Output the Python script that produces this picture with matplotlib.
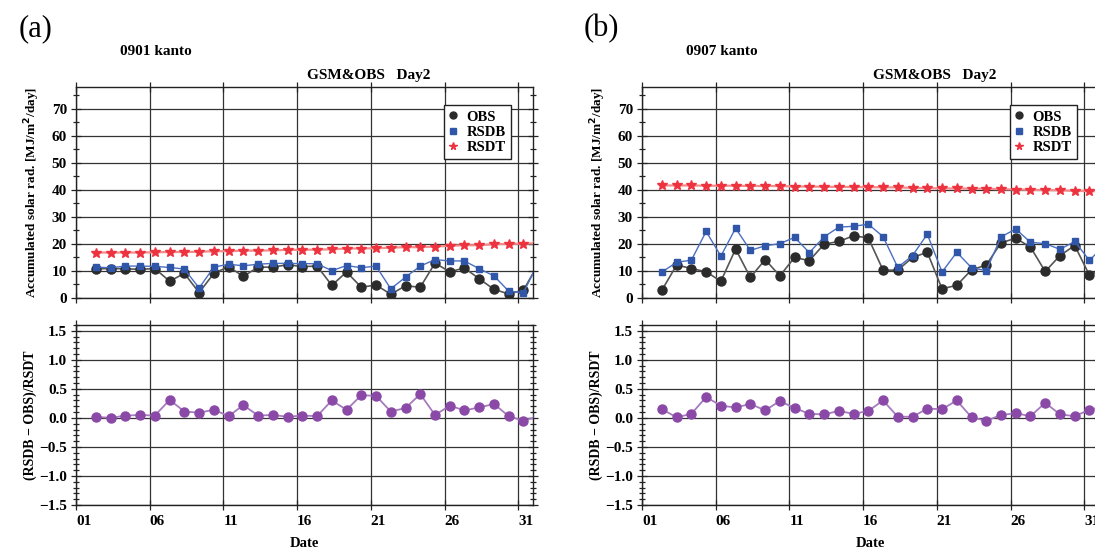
import matplotlib
matplotlib.use("Agg")
import matplotlib.pyplot as plt
import numpy as np
from matplotlib.ticker import MultipleLocator

plt.rcParams['font.family'] = ['Liberation Serif', 'DejaVu Serif']
plt.rcParams['font.weight'] = 'bold'
plt.rcParams['axes.titleweight'] = 'bold'
plt.rcParams['axes.labelweight'] = 'bold'
plt.rcParams['mathtext.default'] = 'bf'

# day of month (32 = first day of next month), values plotted at day + 0.35
days = np.arange(2, 33)
day_offset = 0.35

# (a) 0901 kanto
obs_a = [10.8, 10.9, 10.8, 10.6, 10.9, 6.2, 9.1, 2.0, 9.1, 11.6, 8.0, 11.4, 11.4, 12.3, 11.6,
         11.8, 4.7, 9.6, 4.0, 4.8, 1.4, 4.5, 4.0, 12.9, 9.7, 11.1, 7.1, 3.2, 1.5, 2.9, 12.5]
rsdb_a = [11.4, 11.2, 11.8, 11.8, 11.7, 11.3, 10.7, 3.7, 11.4, 12.5, 11.9, 12.5, 12.8, 12.8, 12.7,
          12.7, 10.1, 12.0, 11.2, 11.8, 3.4, 7.7, 11.8, 14.2, 13.7, 13.7, 10.8, 8.2, 2.5, 2.0, 13.0]
rsdt_a = [16.8, 16.8, 16.8, 16.8, 16.9, 17.0, 17.0, 17.1, 17.3, 17.3, 17.5, 17.5, 17.6, 17.8, 17.8,
          17.9, 18.0, 18.3, 18.3, 18.4, 18.6, 18.8, 18.8, 19.0, 19.3, 19.5, 19.5, 19.9, 20.0, 20.1, 20.2]
ratio_a = [0.02, 0.00, 0.04, 0.05, 0.04, 0.31, 0.11, 0.09, 0.14, 0.03, 0.22, 0.04, 0.05, 0.02, 0.04,
           0.03, 0.30, 0.14, 0.39, 0.38, 0.11, 0.17, 0.41, 0.05, 0.21, 0.13, 0.18, 0.24, 0.03, -0.05, 0.03]

# (b) 0907 kanto
obs_b = [2.9, 12.2, 10.9, 9.7, 6.2, 18.1, 7.6, 14.2, 8.2, 15.0, 13.8, 19.9, 20.9, 23.0, 22.2,
         10.3, 10.3, 15.0, 16.9, 3.4, 4.7, 10.4, 12.2, 20.4, 22.1, 18.8, 9.8, 15.7, 19.4, 8.4, 11.0]
rsdb_b = [9.6, 13.2, 14.0, 24.6, 15.5, 25.8, 17.6, 19.3, 20.1, 22.4, 16.8, 22.6, 26.2, 26.5, 27.3,
          22.7, 11.3, 15.7, 23.6, 9.6, 16.9, 11.2, 10.1, 22.6, 25.5, 20.6, 20.1, 18.0, 20.9, 13.9, 19.5]
rsdt_b = [41.6, 41.6, 41.6, 41.5, 41.5, 41.5, 41.4, 41.4, 41.4, 41.2, 41.2, 41.1, 41.1, 41.0, 41.0,
          40.9, 40.9, 40.7, 40.6, 40.5, 40.5, 40.4, 40.4, 40.2, 40.1, 40.0, 39.9, 39.8, 39.6, 39.5, 39.4]
ratio_b = [0.15, 0.01, 0.07, 0.36, 0.21, 0.18, 0.24, 0.13, 0.29, 0.17, 0.07, 0.06, 0.12, 0.07, 0.12,
           0.30, 0.02, 0.02, 0.16, 0.15, 0.30, 0.01, -0.05, 0.05, 0.08, 0.03, 0.26, 0.06, 0.03, 0.14, 0.20]

xticks = [1, 6, 11, 16, 21, 26, 31]
xticklabels = ["01", "06", "11", "16", "21", "26", "31"]


def style_axes(ax):
    for s in ax.spines.values():
        s.set_linewidth(1.0)
        s.set_color("#222222")
    ax.grid(True, which="major", color="#333333", linewidth=0.9)
    ax.set_axisbelow(True)
    ax.tick_params(which="both", direction="inout", top=True, right=True,
                   width=0.9, color="#222222", labelsize=11)
    ax.tick_params(which="major", length=7, pad=3)
    ax.tick_params(which="minor", length=4)
    ax.set_xlim(1, 32)
    ax.set_xticks(xticks)


def draw_panel(fig, left, tag, station, obs, rsdb, rsdt, ratio):
    width = 0.4174
    x = days + day_offset
    ax1 = fig.add_axes([left, 0.4611, width, 0.3816])
    ax2 = fig.add_axes([left, 0.0868, width, 0.3255])
    for ax in (ax1, ax2):
        style_axes(ax)

    # upper: accumulated solar radiation
    ax1.plot(x, obs, color="#555555", lw=1.2, marker="o", ms=6.5,
             mfc="#2b2b2b", mec="#2b2b2b", label="OBS", zorder=4)
    ax1.plot(x, rsdb, color="#4a6fc0", lw=1.0, marker="s", ms=5,
             mfc="#2f56a8", mec="#2f56a8", label="RSDB", zorder=5)
    ax1.plot(x, rsdt, color="#f58a8a", lw=1.6, marker="*", ms=7,
             mfc="#ee3340", mec="#ee3340", label="RSDT", zorder=3)
    ax1.set_ylim(0, 78)
    ax1.yaxis.set_major_locator(MultipleLocator(10))
    ax1.yaxis.set_minor_locator(MultipleLocator(5))
    ax1.set_xticklabels([])
    ax1.set_ylabel("Accumulated solar rad. [MJ/m$^2$/day]", fontsize=9.5)
    ax1.yaxis.set_label_coords(-0.074, 0.5)
    leg = ax1.legend(loc="upper right", bbox_to_anchor=(0.967, 0.948), fontsize=10.5,
                     handlelength=0.6, handletextpad=0.6, labelspacing=0.15,
                     borderpad=0.35, fancybox=False, framealpha=1,
                     edgecolor="#222222")
    leg.get_frame().set_linewidth(1.0)
    for h in leg.legend_handles:
        h.set_linestyle("none")
    for h, m in zip(leg.legend_handles, [5, 4, 5.5]):
        h.set_markersize(m)
    ax1.set_title("GSM&OBS   Day2", fontsize=11, x=0.64, pad=6)

    # lower: (RSDB - OBS)/RSDT
    ax2.plot(x, ratio, color="#a57bbd", lw=1.3, marker="o", ms=6.5,
             mfc="#8a49a6", mec="#8a49a6", zorder=4)
    ax2.set_ylim(-1.5, 1.6)
    ax2.set_yticks([-1.5, -1.0, -0.5, 0.0, 0.5, 1.0, 1.5])
    ax2.set_yticklabels(["\u22121.5", "\u22121.0", "\u22120.5", "0.0", "0.5", "1.0", "1.5"])
    ax2.yaxis.set_minor_locator(MultipleLocator(0.1))
    ax2.set_xticklabels(xticklabels, ha="left")
    ax2.tick_params(axis="x", which="major", pad=4)
    ax2.set_xlabel("Date", fontsize=10.5, labelpad=6)
    ax2.set_ylabel("(RSDB \u2212 OBS)/RSDT", fontsize=10)
    ax2.yaxis.set_label_coords(-0.086, 0.5)

    fig.text(left - 0.037, 0.948, tag, fontsize=22, fontweight="normal",
             ha="center", va="center")
    fig.text(left + 0.073, 0.906, station, fontsize=11, ha="center", va="center")


fig = plt.figure(figsize=(10.95, 5.53), dpi=100)
draw_panel(fig, 0.0694, "(a)", "0901 kanto", obs_a, rsdb_a, rsdt_a, ratio_a)
draw_panel(fig, 0.5863, "(b)", "0907 kanto", obs_b, rsdb_b, rsdt_b, ratio_b)
fig.savefig("out.png", dpi=100)
